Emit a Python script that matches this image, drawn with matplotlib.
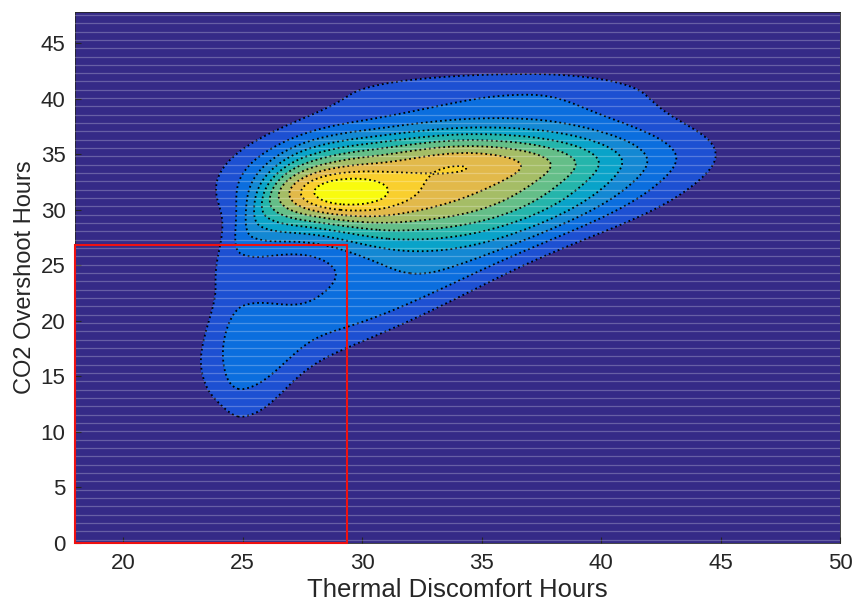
import matplotlib
matplotlib.use("Agg")
import matplotlib.pyplot as plt
import numpy as np
from matplotlib.colors import LinearSegmentedColormap
from matplotlib.patches import Rectangle

plt.rcParams['font.family'] = ['Liberation Sans', 'DejaVu Sans']

# density components (split, generalised gaussians)
# centre, axis angle (deg), spread back/forward along axis, spread below/above,
# edge sharpness, weight
comp_x = [30.8, 29.2, 35.0, 37.0, 32.5, 25.0, 26.2]
comp_y = [32.2, 31.5, 34.6, 40.4, 24.0, 17.0, 30.0]
comp_ang = [12, 10, 3, 0, 48, 90, 72]
comp_su_back = [4.0, 1.5, 2.5, 6.5, 8.5, 5.0, 4.0]
comp_su_fwd = [7.8, 1.8, 4.5, 4.0, 7.0, 4.5, 3.0]
comp_sv_lo = [4.0, 1.5, 1.4, 2.4, 1.7, 1.5, 1.5]
comp_sv_hi = [3.6, 1.3, 1.8, 1.7, 3.0, 0.8, 0.8]
comp_p = [2.6, 2.0, 2.0, 2.0, 2.0, 2.0, 2.0]
comp_w = [0.6, 0.22, 0.13, 0.13, 0.2, 0.12, 0.18]

# red box of the acceptable region
box_x = [18, 29.35]
box_y = [0, 26.8]

x_ticks = [20, 25, 30, 35, 40, 45, 50]
y_ticks = [0, 5, 10, 15, 20, 25, 30, 35, 40, 45]

parula_pts = ['#352a87', '#2f3aa6', '#1f4fd1', '#0363e1', '#0f74dc', '#1485d4',
              '#0f98cf', '#06a7c6', '#1ab2b1', '#3fbc9d', '#6abe84', '#96be6c',
              '#c1ba5a', '#e5b949', '#fcc338', '#f5db23', '#f9fb0e']
parula = LinearSegmentedColormap.from_list('parula', parula_pts)

gx = np.linspace(18, 50, 321)
gy = np.linspace(0, 48, 481)
X, Y = np.meshgrid(gx, gy)
Z = np.zeros_like(X)
for i in range(len(comp_w)):
    t = np.radians(comp_ang[i])
    u = (X - comp_x[i]) * np.cos(t) + (Y - comp_y[i]) * np.sin(t)
    v = -(X - comp_x[i]) * np.sin(t) + (Y - comp_y[i]) * np.cos(t)
    su = np.where(u < 0, comp_su_back[i], comp_su_fwd[i])
    sv = np.where(v < 0, comp_sv_lo[i], comp_sv_hi[i])
    r = np.sqrt((u / su) ** 2 + (v / sv) ** 2)
    Z += comp_w[i] * np.exp(-0.5 * r ** comp_p[i])
Z /= Z.max()

levels = list(np.linspace(0.09, 0.9, 10)) + [1.01]
fill_cols = [parula(v) for v in np.linspace(0.13, 1.0, 10)]

fig = plt.figure(figsize=(8.55, 6.04), dpi=100)
ax = fig.add_axes([0.088, 0.101, 0.8945, 0.879])
ax.set_facecolor('#352a87')
ax.contourf(X, Y, Z, levels=levels, colors=fill_cols, zorder=1)
ax.contour(X, Y, Z, levels=levels[:-1], colors='k', linestyles=':', linewidths=1.3, zorder=2)

for yy in np.arange(0.3, 48, 0.75):
    ax.axhline(yy, color='white', alpha=0.25, lw=0.9, zorder=3)

ax.add_patch(Rectangle((box_x[0], box_y[0]), box_x[1] - box_x[0], box_y[1] - box_y[0],
                       fill=False, edgecolor='#ee1111', lw=1.5, zorder=5, clip_on=False))

ax.set_xlim(18, 50)
ax.set_ylim(0, 47.8)
ax.set_xticks(x_ticks)
ax.set_yticks(y_ticks)
ax.tick_params(direction='in', length=4, labelsize=16, colors='#262626', pad=7)
for s in ax.spines.values():
    s.set_color('#262626')
    s.set_linewidth(0.6)
ax.set_xlabel('Thermal Discomfort Hours', fontsize=18.5, color='#262626', labelpad=3)
ax.set_ylabel('CO2 Overshoot Hours', fontsize=17, color='#262626', labelpad=3)

fig.savefig('out.png', dpi=100)
